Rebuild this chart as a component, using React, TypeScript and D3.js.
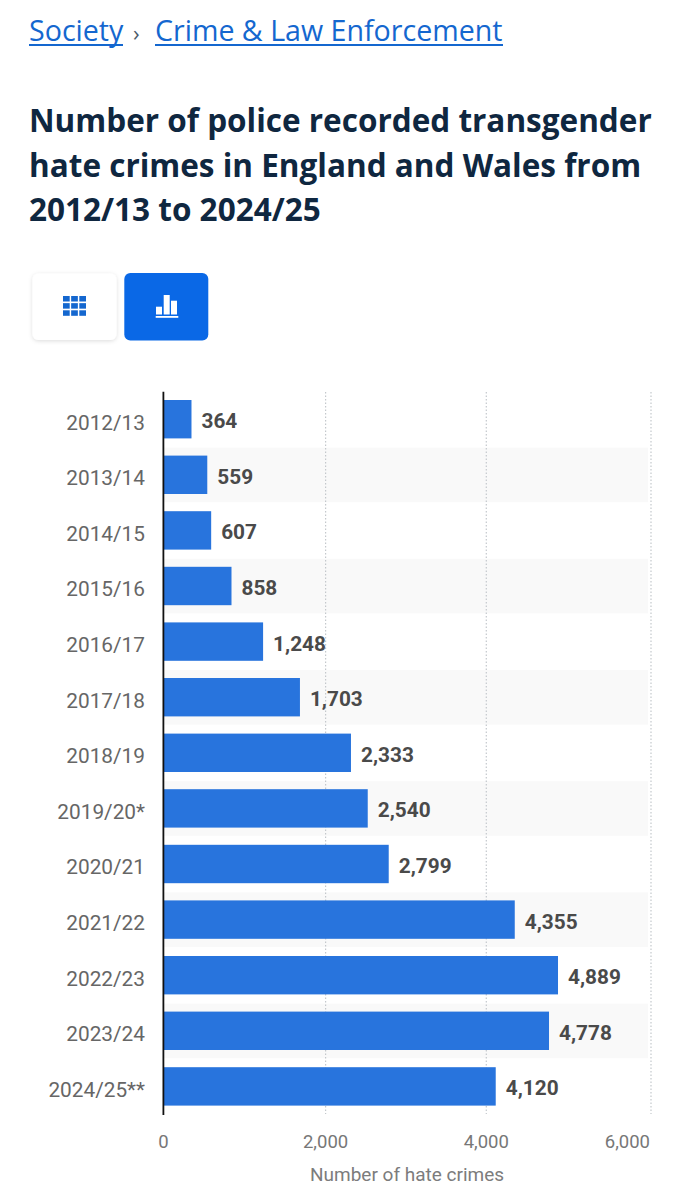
import React from "react";
import * as d3 from "d3";

const categories = ["2012/13","2013/14","2014/15","2015/16","2016/17","2017/18","2018/19","2019/20*","2020/21","2021/22","2022/23","2023/24","2024/25**"];
const values = [364,559,607,858,1248,1703,2333,2540,2799,4355,4889,4778,4120];
const xTicks = [0,2000,4000,6000];
const titleLines = ["Number of police recorded transgender","hate crimes in England and Wales from","2012/13 to 2024/25"];

const W = 688, H = 1200;
const x = d3.scaleLinear().domain([0,6000]).range([162,648]);
const gridX = d3.scaleLinear().domain(xTicks).range([163.5,325.6,486.3,651]);
const y = d3.scaleBand().domain(categories).range([391.4,1114.2]).paddingInner(0).paddingOuter(0);
const fmt = d3.format(",");
const BLUE = "#2874dd", LINK = "#1467cf", DARK = "#0f2740";
const gridCells = d3.range(3).flatMap(r => d3.range(3).map(c => [c, r]));

export default function App() {
  return (
    <svg width={W} height={H} viewBox={`0 0 ${W} ${H}`} style={{position:"absolute",left:0,top:0,background:"#fff"}}>
      <defs>
        <filter id="sh" x="-20%" y="-20%" width="140%" height="140%">
          <feDropShadow dx="0" dy="1" stdDeviation="2" floodColor="#000" floodOpacity="0.14"/>
        </filter>
      </defs>
      <g fontFamily="'Open Sans'" fontSize={28.6} fill={LINK}>
        <text x={29} y={41}>Society</text>
        <text x={155} y={41}>Crime &amp; Law Enforcement</text>
      </g>
      <rect x={29} y={44} width={94} height={2} fill={LINK}/>
      <rect x={155} y={44} width={348} height={2} fill={LINK}/>
      <text x={133} y={41} fontFamily="'Open Sans'" fontSize={22} fill="#4a5a6a">›</text>
      <g fontFamily="'Open Sans'" fontWeight={700} fontSize={31.5} fill={DARK}>
        {titleLines.map((t,i)=><text key={i} x={29} y={132+i*44.5}>{t}</text>)}
      </g>
      <rect x={32.5} y={273.5} width={84} height={66.5} rx={6} fill="#fff" filter="url(#sh)"/>
      <rect x={124.3} y={273} width={84} height={67.5} rx={6} fill="#0a68e6"/>
      {gridCells.map(([c,r])=><rect key={`${c}-${r}`} x={63+c*8.15} y={296+r*7.15} width={6.7} height={5.5} fill={LINK}/>)}
      <g fill="#fff">
        <rect x={156} y={306.7} width={6} height={7.8}/>
        <rect x={163.7} y={295} width={6} height={19.5}/>
        <rect x={171} y={300.7} width={6} height={13.8}/>
        <rect x={155.7} y={316} width={22.6} height={1.8}/>
      </g>
      {categories.map((c,i)=> i%2===1 ? <rect key={c} x={164} y={y(c)!+0.6} width={484} height={y.bandwidth()-1} fill="#f9f9f9"/> : null)}
      {xTicks.slice(1).map(t=><line key={t} x1={gridX(t)} x2={gridX(t)} y1={392} y2={1114} stroke="#c4c8cc" strokeWidth={1.2} strokeDasharray="1.5 2"/>)}
      {categories.map((c,i)=>{
        const yc = y(c)! + y.bandwidth()/2;
        return <g key={c}>
          <rect x={163} y={yc-19.2} width={x(values[i])-163} height={38.4} fill={BLUE}/>
          <text x={145} y={yc+10.4} textAnchor="end" fontFamily="Roboto" fontSize={20.8} fill="#666">{c}</text>
          <text x={x(values[i])+10} y={yc+9} fontFamily="Roboto" fontWeight={700} fontSize={20.8} fill="#4a4a4a">{fmt(values[i])}</text>
        </g>;
      })}
      <line x1={163.4} x2={163.4} y1={391.7} y2={1115} stroke="#111" strokeWidth={1.8}/>
      {xTicks.map(t=><text key={t} x={t===6000?650:gridX(t)} y={1148} textAnchor={t===6000?"end":"middle"} fontFamily="Roboto" fontSize={18.5} fill="#777">{fmt(t)}</text>)}
      <text x={407} y={1181} textAnchor="middle" fontFamily="Roboto" fontSize={19} fill="#7c7c7c">Number of hate crimes</text>
    </svg>
  );
}
